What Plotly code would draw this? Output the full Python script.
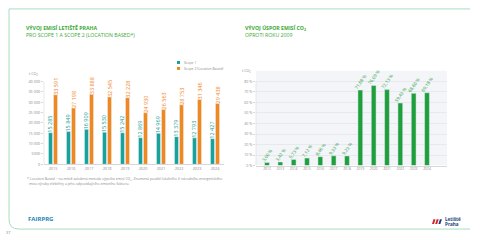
import plotly.graph_objects as go

# ---------------- data ----------------
years_left = ["2015", "2016", "2017", "2018", "2019", "2020", "2021", "2022", "2023", "2024"]
scope1 = [15285, 15849, 16909, 15530, 15242, 12869, 14969, 13379, 12793, 12427]
scope2 = [33591, 27198, 33888, 32545, 32228, 24930, 26563, 28753, 31346, 29438]
left_ticks = [0, 5000, 10000, 15000, 20000, 25000, 30000, 35000, 40000]
left_ticktext = ["0", "5000", "10 000", "15 000", "20 000", "25 000", "30 000", "35 000", "40 000"]

years_right = ["2012", "2013", "2014", "2015", "2016", "2017", "2018",
               "2019", "2020", "2021", "2022", "2023", "2024"]
savings = [3.00, 3.42, 5.73, 7.12, 8.46, 9.33, 9.23, 71.68, 76.09, 72.13, 59.43, 68.60, 69.18]
right_ticks = [0, 10, 20, 30, 40, 50, 60, 70, 80]
right_ticktext = ["0 %", "10 %", "20 %", "30 %", "40 %", "50 %", "60 %", "70 %", "80 %"]

TEAL = "#16a19b"
ORANGE = "#f0871f"
GREEN = "#1f9e3c"
TITLE_GREEN = "#3aa935"
FRAME = "#a9dcbf"
GRAY = "#8a8a8a"
AXIS = "#d8d8d8"
FONT = "Open Sans"

W, H = 480, 240
def px(x):
    return x / W
def py(y):
    return 1 - y / H

# pixel scales (keep plot scale, give headroom for labels)
L_Y0, L_Y40K = 165.7, 82.3
L_MAX = 50000
l_top = L_Y0 - (L_Y0 - L_Y40K) * L_MAX / 40000
R_Y0, R_Y80 = 167.0, 82.0
R_MAX = 100
r_top = R_Y0 - (R_Y0 - R_Y80) * R_MAX / 80

fig = go.Figure()

fig.add_trace(go.Bar(
    x=years_left, y=scope1, name="Scope 1", marker_color=TEAL,
    width=0.22, offset=-0.25,
    texttemplate="%{y:,.0f}", textposition="outside", textangle=-90, constraintext="none",
    textfont=dict(size=5.5, color=TEAL, family=FONT), cliponaxis=False,
    xaxis="x", yaxis="y", showlegend=False))
fig.add_trace(go.Bar(
    x=years_left, y=scope2, name="Scope 2 (Location Based)", marker_color=ORANGE,
    width=0.22, offset=0.03,
    texttemplate="%{y:,.0f}", textposition="outside", textangle=-90, constraintext="none",
    textfont=dict(size=5.5, color=ORANGE, family=FONT), cliponaxis=False,
    xaxis="x", yaxis="y", showlegend=False))
fig.add_trace(go.Bar(
    x=years_right, y=savings, marker_color=GREEN, width=0.36,
    texttemplate="%{y:.2f} %", textposition="outside", textangle=-55, constraintext="none",
    textfont=dict(size=4.5, color=GREEN, family=FONT), cliponaxis=False,
    xaxis="x2", yaxis="y2", showlegend=False))

shapes = []
r = 10
path = (f"M {px(470)},{py(9)} L {px(9)},{py(9)} L {px(9)},{py(231 - r)} "
        f"Q {px(9)},{py(231)} {px(9 + r)},{py(231)} L {px(470)},{py(231)}")
shapes.append(dict(type="path", path=path, xref="paper", yref="paper",
                   line=dict(color=FRAME, width=1)))
# right plot background
shapes.append(dict(type="rect", xref="x2 domain", yref="y2", x0=0, x1=1, y0=0, y1=90,
                   fillcolor="#f3f5f9", line=dict(width=0), layer="below"))
# y axis lines (only up to last tick)
shapes.append(dict(type="line", xref="x domain", yref="y", x0=0, x1=0, y0=0, y1=40000,
                   line=dict(color=AXIS, width=0.6)))
shapes.append(dict(type="line", xref="x2 domain", yref="y2", x0=0, x1=0, y0=0, y1=80,
                   line=dict(color=AXIS, width=0.6)))
# legend squares
shapes.append(dict(type="rect", xref="paper", yref="paper", x0=px(177), x1=px(180), y0=py(64.5), y1=py(61.5),
                   fillcolor=TEAL, line=dict(width=0)))
shapes.append(dict(type="rect", xref="paper", yref="paper", x0=px(177), x1=px(180), y0=py(70.5), y1=py(67.5),
                   fillcolor=ORANGE, line=dict(width=0)))
# logo mark
for i, col in enumerate(["#d6202b", "#d6202b", "#1c3f7c"]):
    bx = 432 + i * 3.2
    shapes.append(dict(type="path", xref="paper", yref="paper",
                       path=f"M {px(bx)},{py(226)} L {px(bx+2)},{py(226)} L {px(bx+3.5)},{py(221)} L {px(bx+1.5)},{py(221)} Z",
                       fillcolor=col, line=dict(width=0)))

ann = []
def T(x, y, text, size, color, bold=False, xanchor="left", yanchor="middle", family=FONT):
    ann.append(dict(x=px(x), y=py(y), xref="paper", yref="paper", text=(f"<b>{text}</b>" if bold else text),
                    showarrow=False, xanchor=xanchor, yanchor=yanchor,
                    font=dict(size=size, color=color, family=family)))

T(23.5, 28, "VÝVOJ EMISÍ LETIŠTĚ PRAHA", 5.2, TITLE_GREEN, bold=True)
T(23.5, 35, "PRO SCOPE 1 A SCOPE 2 (LOCATION BASED*)", 5.2, TITLE_GREEN)
T(242.5, 28, "VÝVOJ ÚSPOR EMISÍ CO<sub>2</sub>", 5.2, TITLE_GREEN, bold=True)
T(242.5, 35, "OPROTI ROKU 2009", 5.2, TITLE_GREEN)
T(40, 75, "t CO<sub>2</sub>", 3.6, GRAY, xanchor="right")
T(253, 72, "t CO<sub>2</sub>", 3.6, GRAY, xanchor="right")
T(181.5, 63, "Scope 1", 3.4, GRAY)
T(181.5, 69, "Scope 2 (Location Based)", 3.4, GRAY)
T(25, 181, "* Location Based = na místě založená metoda výpočtu emisí CO<sub>2</sub>. Znamená použití lokálního či národního energetického", 3.5, GRAY)
T(27, 185.5, "mixu výroby elektřiny a jeho odpovídajícího emisního faktoru.", 3.5, GRAY)
T(4, 234, "37", 4, GRAY)
T(25.5, 221, "FAIRPRG", 6, "#1f7fb4", bold=True)
T(443, 221, "Letiště", 4.6, "#1c3f7c", bold=True)
T(443, 226, "Praha", 4.6, "#1c3f7c", bold=True)

fig.update_layout(
    width=W, height=H, margin=dict(l=0, r=0, t=0, b=0),
    paper_bgcolor="white", plot_bgcolor="rgba(0,0,0,0)",
    barmode="overlay", separators=", ",
    font=dict(family=FONT, color=GRAY),
    xaxis=dict(domain=[px(44), px(224)], range=[-0.5, 9.5], anchor="y",
               showline=True, linecolor=AXIS, linewidth=0.6, ticks="", showgrid=False, zeroline=False,
               tickfont=dict(size=3.8, color=GRAY, family=FONT)),
    yaxis=dict(domain=[py(L_Y0), py(l_top)], range=[0, L_MAX], anchor="x",
               tickvals=left_ticks, ticktext=left_ticktext,
               showline=False, ticks="outside", ticklen=2, tickcolor=AXIS, showgrid=False, zeroline=False,
               tickfont=dict(size=3.8, color=GRAY, family=FONT)),
    xaxis2=dict(domain=[px(256), px(447)], range=[-0.825, 13.5], anchor="y2",
                showline=True, linecolor=AXIS, linewidth=0.6, ticks="",
                tickfont=dict(size=3.4, color=GRAY, family=FONT), zeroline=False, showgrid=False),
    yaxis2=dict(domain=[py(R_Y0), py(r_top)], range=[0, R_MAX], anchor="x2",
                tickvals=right_ticks, ticktext=right_ticktext,
                showline=False, ticks="outside", ticklen=2, tickcolor=AXIS,
                showgrid=True, gridcolor="#e6e9ee", gridwidth=0.5,
                zeroline=False, tickfont=dict(size=3.6, color=GRAY, family=FONT)),
    shapes=shapes, annotations=ann,
)

fig.write_html("out.html")
